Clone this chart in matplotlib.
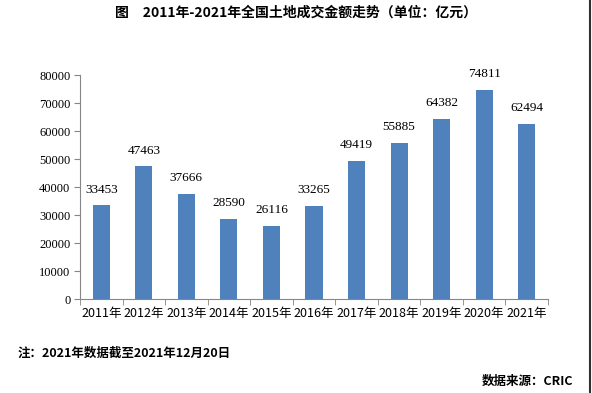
import matplotlib.pyplot as plt
import numpy as np
from matplotlib.lines import Line2D

plt.rcParams['font.family'] = ['Noto Sans CJK SC', 'DejaVu Sans']

years = ["2011年", "2012年", "2013年", "2014年", "2015年", "2016年",
         "2017年", "2018年", "2019年", "2020年", "2021年"]
amounts = [33453, 47463, 37666, 28590, 26116, 33265, 49419, 55885, 64382, 74811, 62494]
yticks = [0, 10000, 20000, 30000, 40000, 50000, 60000, 70000, 80000]

fig = plt.figure(figsize=(5.92, 3.93), dpi=100)
# axes in figure fractions: x 80..548 px, y 75..299 px
ax = fig.add_axes([80/592, 1 - 299/393, 468/592, 224/393])

x = np.arange(len(years))
bars = ax.bar(x, amounts, width=0.4, color="#4F81BD")

for xi, v in zip(x, amounts):
    ax.text(xi, v + 3400, str(v), ha="center", va="bottom", fontsize=9.5,
            family="Liberation Serif")

ax.set_xlim(-0.5, len(years) - 0.5)
ax.set_ylim(0, 80000)
ax.set_yticks(yticks)
ax.set_yticklabels([str(t) for t in yticks], family="Liberation Serif", fontsize=9)

# category labels centred, ticks at the boundaries
ax.set_xticks(x)
ax.set_xticklabels(years, fontsize=9)
ax.tick_params(axis="x", length=0, pad=6)
ax.set_xticks(np.arange(len(years) + 1) - 0.5, minor=True)
ax.tick_params(axis="x", which="minor", length=4, color="#868686", direction="out")
ax.tick_params(axis="y", length=4, color="#868686", direction="out", pad=3)

for s in ["top", "right"]:
    ax.spines[s].set_visible(False)
for s in ["left", "bottom"]:
    ax.spines[s].set_color("#868686")

fig.text(0.5, 1 - 13/393, "图　2011年-2021年全国土地成交金额走势（单位：亿元）",
         ha="center", va="center", fontsize=10, fontweight="bold")
fig.text(18/592, 1 - 353/393, "注：2021年数据截至2021年12月20日",
         ha="left", va="center", fontsize=9, fontweight="bold")
fig.text(573/592, 1 - 381/393, "数据来源：CRIC",
         ha="right", va="center", fontsize=9, fontweight="bold")

# dark border on the right edge
fig.add_artist(Line2D([590/592, 590/592], [0, 1], color="#303030", lw=1.5,
                      transform=fig.transFigure))

fig.savefig("out.png", dpi=100)
